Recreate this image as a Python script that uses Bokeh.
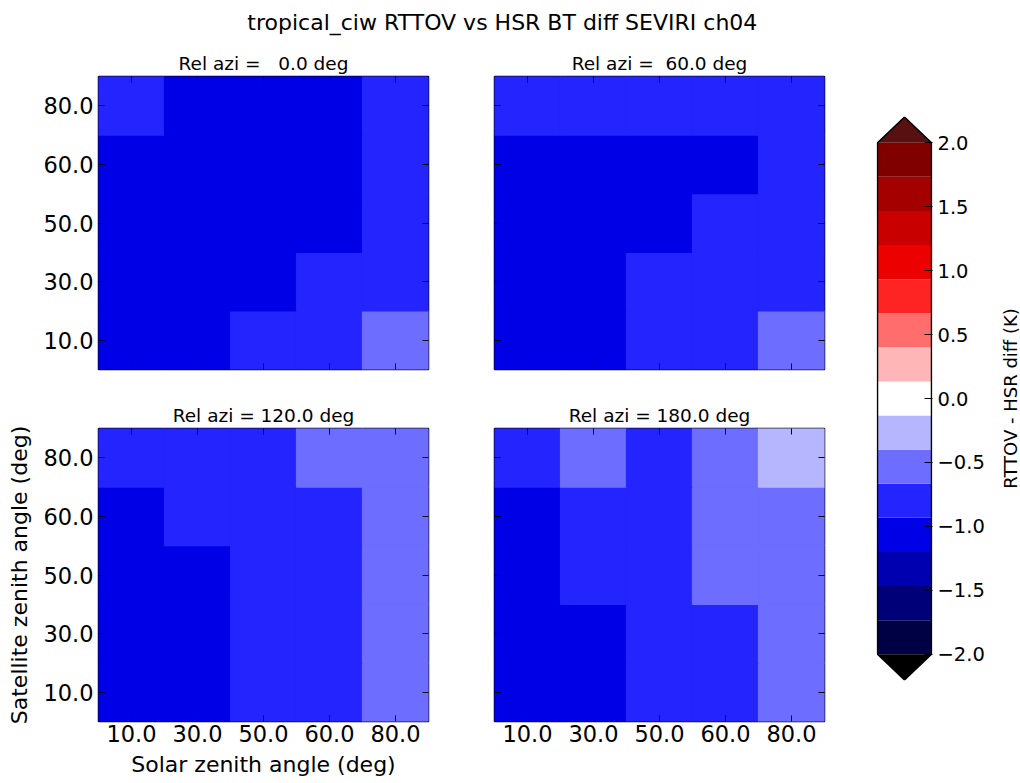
import numpy as np
from bokeh.plotting import figure
from bokeh.models import (FactorRange, CategoricalAxis, LinearAxis, FixedTicker,
                          LinearColorMapper, ColumnDataSource, Range1d, Title)
from bokeh.layouts import column, row
from bokeh.embed import file_html
from bokeh.resources import INLINE
from bokeh.core.properties import value
from bokeh.transform import transform

# ---------------- data ----------------
SOLAR_ZEN = ["10.0", "30.0", "50.0", "60.0", "80.0"]   # x categories
SAT_ZEN = ["10.0", "30.0", "50.0", "60.0", "80.0"]     # y categories
REL_AZI = [0.0, 60.0, 120.0, 180.0]

# rows: satellite zenith 10,30,50,60,80 ; cols: solar zenith 10,30,50,60,80
DIFF_AZI_0 = [
    [-1.08, -1.02, -0.88, -0.79, -0.58],
    [-1.10, -1.05, -0.97, -0.90, -0.82],
    [-1.12, -1.07, -1.01, -0.96, -0.86],
    [-1.09, -1.06, -1.03, -0.99, -0.89],
    [-0.91, -0.98, -1.02, -1.00, -0.84],
]
DIFF_AZI_60 = [
    [-1.06, -0.99, -0.87, -0.78, -0.60],
    [-1.08, -1.00, -0.92, -0.85, -0.78],
    [-1.10, -1.04, -0.97, -0.91, -0.84],
    [-1.11, -1.07, -1.02, -0.95, -0.87],
    [-0.90, -0.88, -0.86, -0.83, -0.75],
]
DIFF_AZI_120 = [
    [-1.05, -0.97, -0.87, -0.76, -0.55],
    [-1.03, -0.96, -0.86, -0.74, -0.52],
    [-1.01, -0.95, -0.84, -0.72, -0.50],
    [-0.96, -0.90, -0.81, -0.70, -0.48],
    [-0.85, -0.80, -0.72, -0.64, -0.45],
]
DIFF_AZI_180 = [
    [-1.04, -0.96, -0.84, -0.73, -0.52],
    [-1.02, -0.95, -0.82, -0.70, -0.50],
    [-0.98, -0.90, -0.78, -0.63, -0.46],
    [-0.95, -0.86, -0.75, -0.60, -0.44],
    [-0.82, -0.62, -0.72, -0.55, -0.35],
]
DIFFS = [DIFF_AZI_0, DIFF_AZI_60, DIFF_AZI_120, DIFF_AZI_180]

CBAR_TICKS = [-2.0, -1.5, -1.0, -0.5, 0.0, 0.5, 1.0, 1.5, 2.0]
VMIN, VMAX, NLEV = -2.0, 2.0, 15
PALETTE = ["#000044", "#000078", "#0000b0", "#0000e6", "#2424ff", "#6d6dff",
           "#b6b6ff", "#ffffff", "#ffb6b6", "#ff6d6d", "#ff2424", "#ed0000",
           "#c80000", "#a40000", "#800000"]
UNDER_COLOR = "#000000"
OVER_COLOR = "#581010"

TITLE = "tropical_ciw RTTOV vs HSR BT diff SEVIRI ch04"
XLABEL = "Solar zenith angle (deg)"
YLABEL = "Satellite zenith angle (deg)"
CBLABEL = "RTTOV - HSR diff (K)"

FONT = "DejaVu Sans"
TICK_SIZE = "22.5px"
LABEL_SIZE = "22px"

mapper = LinearColorMapper(palette=PALETTE, low=VMIN, high=VMAX,
                           low_color=UNDER_COLOR, high_color=OVER_COLOR)


def style_axis(ax, factors, show_labels):
    ax.major_tick_in = 6
    ax.major_tick_out = 0
    ax.major_tick_line_color = "black"
    ax.major_tick_line_width = 1
    ax.minor_tick_line_color = None
    ax.axis_line_color = None
    ax.major_label_text_font = FONT
    ax.major_label_text_font_size = TICK_SIZE
    if show_labels:
        ax.major_label_text_color = "black"
        ax.major_label_standoff = 5
    else:
        ax.major_label_overrides = {f: "" for f in factors}
        ax.major_label_text_color = None
        ax.major_label_standoff = 0


def make_panel(data, azi, show_x, show_y, bl, br, bt, bb, frame_w=330, frame_h=293):
    w = bl + frame_w + br
    h = bt + frame_h + bb
    p = figure(width=w, height=h, x_range=FactorRange(*SOLAR_ZEN),
               y_range=FactorRange(*SAT_ZEN), output_backend="svg",
               toolbar_location=None, x_axis_location=None, y_axis_location=None,
               min_border_left=bl, min_border_right=br, min_border_top=bt,
               min_border_bottom=bb)
    p.outline_line_color = "black"
    p.outline_line_width = 1.5
    p.outline_line_alpha = 1.0
    p.background_fill_color = "white"
    p.border_fill_color = "white"
    p.xgrid.visible = False
    p.ygrid.visible = False
    xs, ys, vs = [], [], []
    for i, sz in enumerate(SAT_ZEN):
        for j, so in enumerate(SOLAR_ZEN):
            xs.append(so)
            ys.append(sz)
            vs.append(data[i][j])
    src = ColumnDataSource(dict(x=xs, y=ys, v=vs))
    p.rect(x="x", y="y", width=1, height=1, source=src,
           fill_color=transform("v", mapper), line_color=transform("v", mapper),
           line_width=1.2)

    below = CategoricalAxis()
    style_axis(below, SOLAR_ZEN, show_x)
    left = CategoricalAxis()
    style_axis(left, SAT_ZEN, show_y)
    above = CategoricalAxis()
    style_axis(above, SOLAR_ZEN, False)
    right = CategoricalAxis()
    style_axis(right, SAT_ZEN, False)
    if show_x:
        below.major_label_standoff = 3
    p.add_layout(below, "below")
    p.add_layout(left, "left")
    p.add_layout(above, "above")
    p.add_layout(right, "right")

    pad = ("%5.1f" % azi).replace(" ", "\u00a0")
    p.title = Title(text="Rel azi = " + pad + " deg", align="center",
                    text_font=FONT, text_font_size="18.5px",
                    text_font_style="normal", text_color="black", standoff=6)
    return p, below, left


p1, _, _ = make_panel(DIFFS[0], REL_AZI[0], False, True, 98, 33, 38, 20)
p2, _, _ = make_panel(DIFFS[1], REL_AZI[1], False, False, 33, 16, 38, 20)
p3, b3, l3 = make_panel(DIFFS[2], REL_AZI[2], True, True, 98, 33, 39, 62)
p4, _, _ = make_panel(DIFFS[3], REL_AZI[3], True, False, 33, 16, 39, 62)

l3.axis_label = YLABEL
l3.axis_label_text_font = FONT
l3.axis_label_text_font_size = LABEL_SIZE
l3.axis_label_text_font_style = "normal"
l3.axis_label_text_color = "black"
l3.axis_label_standoff = 8

b3.axis_label = XLABEL
b3.axis_label_text_font = FONT
b3.axis_label_text_font_size = LABEL_SIZE
b3.axis_label_text_font_style = "normal"
b3.axis_label_text_color = "black"
b3.axis_label_standoff = 7

# ---------------- colour bar ----------------
EXT = 0.2
LEVELS = np.linspace(VMIN, VMAX, NLEV + 1)
cb = figure(width=157, height=745, x_range=Range1d(-1 / 54, 1 + 1 / 54),
            y_range=Range1d(-2.205, 2.205), output_backend="svg",
            toolbar_location=None, x_axis_location=None, y_axis_location=None,
            min_border_left=36, min_border_right=65, min_border_top=78,
            min_border_bottom=101)
cb.outline_line_color = None
cb.xgrid.visible = False
cb.ygrid.visible = False
csrc = ColumnDataSource(dict(bottom=LEVELS[:-1], top=LEVELS[1:],
                             mid=(LEVELS[:-1] + LEVELS[1:]) / 2))
cb.quad(left=0, right=1, bottom="bottom", top="top", source=csrc,
        fill_color=transform("mid", mapper), line_color=None)
cb.patch([0, 0.5, 1], [VMAX, VMAX + EXT, VMAX], fill_color=OVER_COLOR, line_color=None)
cb.patch([0, 0.5, 1], [VMIN, VMIN - EXT, VMIN], fill_color=UNDER_COLOR, line_color=None)
cb.patch([0, 0, 0.5, 1, 1, 0.5], [VMIN, VMAX, VMAX + EXT, VMAX, VMIN, VMIN - EXT],
         fill_color=None, line_color="black", line_width=1.5)
cax = LinearAxis(ticker=FixedTicker(ticks=CBAR_TICKS))
cax.major_label_overrides = {t: ("%.1f" % t).replace("-", "\u2212") for t in CBAR_TICKS}
cax.major_tick_in = 8
cax.major_tick_out = 0
cax.major_tick_line_color = "black"
cax.minor_tick_line_color = None
cax.axis_line_color = None
cax.major_label_text_font = FONT
cax.major_label_text_font_size = "19.5px"
cax.major_label_text_color = "black"
cax.major_label_standoff = 5
cb.add_layout(cax, "right")

# colour-bar label: a left axis label (reads bottom-to-top) in a thin figure
lf = figure(width=23, height=745, x_range=Range1d(0, 1), y_range=Range1d(0, 1),
            output_backend="svg", toolbar_location=None, x_axis_location=None,
            y_axis_location=None, min_border_left=22, min_border_right=0,
            min_border_top=78, min_border_bottom=103)
lf.outline_line_color = None
lf.xgrid.visible = False
lf.ygrid.visible = False
lax = LinearAxis(ticker=FixedTicker(ticks=[]))
lax.major_tick_out = 0
lax.major_tick_in = 0
lax.major_tick_line_color = None
lax.minor_tick_line_color = None
lax.axis_line_color = None
lax.major_label_text_color = None
lax.major_label_standoff = 0
lax.axis_label = CBLABEL
lax.axis_label_text_font = FONT
lax.axis_label_text_font_size = "18px"
lax.axis_label_text_font_style = "normal"
lax.axis_label_text_color = "black"
lax.axis_label_standoff = 0
lf.add_layout(lax, "left")

# ---------------- suptitle ----------------
tf = figure(width=1020, height=38, x_range=Range1d(0, 1), y_range=Range1d(0, 1),
            output_backend="svg", toolbar_location=None, x_axis_location=None,
            y_axis_location=None, min_border=0)
tf.outline_line_color = None
tf.xgrid.visible = False
tf.ygrid.visible = False
tf.text(x=[0.492], y=[0.42], text=[TITLE], text_align="center",
        text_baseline="middle", text_font=value(FONT), text_font_size=value("22px"),
        text_color="black")

layout = column(tf, row(column(p1, p3), column(p2, p4), cb, lf))
open("out.html", "w").write(file_html(layout, INLINE))
